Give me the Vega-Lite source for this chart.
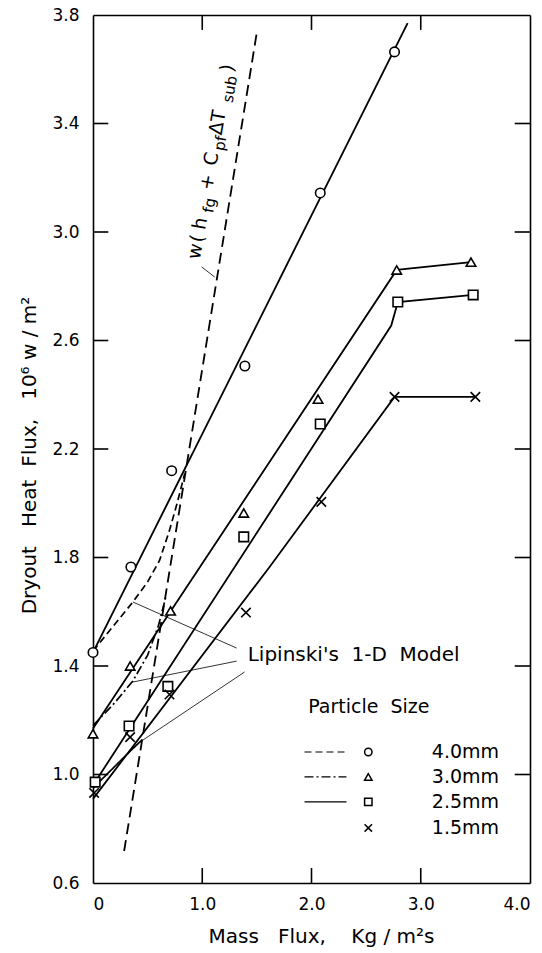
{
  "$schema": "https://vega.github.io/schema/vega-lite/v6.json",
  "width": 437,
  "height": 868,
  "autosize": {"type": "none"},
  "padding": {"left": 93, "top": 15, "right": 12, "bottom": 70},
  "background": "white",
  "config": {
    "view": {"stroke": null},
    "font": "DejaVu Sans",
    "text": {"font": "DejaVu Sans", "color": "black"},
    "axis": {
      "grid": false,
      "domainColor": "black",
      "domainWidth": 1.6,
      "tickColor": "black",
      "tickWidth": 1.5,
      "labelColor": "black",
      "labelFont": "DejaVu Sans",
      "labelFontSize": 17,
      "titleFont": "DejaVu Sans",
      "titleFontSize": 19,
      "titleFontWeight": "normal",
      "titleColor": "black"
    }
  },
  "datasets": {
    "points": [
      {"size": "4.0mm", "x": 0.0, "y": 1.45},
      {"size": "4.0mm", "x": 0.347, "y": 1.765},
      {"size": "4.0mm", "x": 0.72, "y": 2.12},
      {"size": "4.0mm", "x": 1.39, "y": 2.506},
      {"size": "4.0mm", "x": 2.08, "y": 3.144},
      {"size": "4.0mm", "x": 2.76, "y": 3.664},
      {"size": "3.0mm", "x": 0.0, "y": 1.15},
      {"size": "3.0mm", "x": 0.34, "y": 1.40},
      {"size": "3.0mm", "x": 0.71, "y": 1.603},
      {"size": "3.0mm", "x": 1.38, "y": 1.964},
      {"size": "3.0mm", "x": 2.06, "y": 2.384},
      {"size": "3.0mm", "x": 2.78, "y": 2.86},
      {"size": "3.0mm", "x": 3.46, "y": 2.889},
      {"size": "2.5mm", "x": 0.02, "y": 0.972},
      {"size": "2.5mm", "x": 0.33, "y": 1.179},
      {"size": "2.5mm", "x": 0.685, "y": 1.325},
      {"size": "2.5mm", "x": 1.38, "y": 1.876},
      {"size": "2.5mm", "x": 2.08, "y": 2.292},
      {"size": "2.5mm", "x": 2.79, "y": 2.742},
      {"size": "2.5mm", "x": 3.48, "y": 2.768},
      {"size": "1.5mm", "x": 0.01, "y": 0.932},
      {"size": "1.5mm", "x": 0.34, "y": 1.138},
      {"size": "1.5mm", "x": 0.70, "y": 1.295},
      {"size": "1.5mm", "x": 1.40, "y": 1.597},
      {"size": "1.5mm", "x": 2.09, "y": 2.005},
      {"size": "1.5mm", "x": 2.76, "y": 2.392},
      {"size": "1.5mm", "x": 3.50, "y": 2.392}
    ],
    "fits": [
      {"series": "4.0mm", "x": 0.0, "y": 1.45},
      {"series": "4.0mm", "x": 2.88, "y": 3.77},
      {"series": "3.0mm", "x": 0.0, "y": 1.17},
      {"series": "3.0mm", "x": 2.78, "y": 2.86},
      {"series": "3.0mm", "x": 3.46, "y": 2.889},
      {"series": "2.5mm", "x": 0.0, "y": 0.96},
      {"series": "2.5mm", "x": 2.73, "y": 2.655},
      {"series": "2.5mm", "x": 2.79, "y": 2.742},
      {"series": "2.5mm", "x": 3.48, "y": 2.768},
      {"series": "1.5mm", "x": 0.0, "y": 0.91},
      {"series": "1.5mm", "x": 1.616, "y": 1.765},
      {"series": "1.5mm", "x": 2.76, "y": 2.392},
      {"series": "1.5mm", "x": 3.50, "y": 2.392}
    ],
    "lipinski": [
      {"model": "4.0mm", "x": 0.0, "y": 1.455},
      {"model": "4.0mm", "x": 0.365, "y": 1.636},
      {"model": "4.0mm", "x": 0.5, "y": 1.71},
      {"model": "4.0mm", "x": 0.61, "y": 1.79},
      {"model": "4.0mm", "x": 0.70, "y": 1.90},
      {"model": "4.0mm", "x": 0.77, "y": 2.0},
      {"model": "4.0mm", "x": 0.84, "y": 2.11},
      {"model": "3.0mm", "x": 0.0, "y": 1.18},
      {"model": "3.0mm", "x": 0.2, "y": 1.265},
      {"model": "3.0mm", "x": 0.365, "y": 1.345},
      {"model": "3.0mm", "x": 0.5, "y": 1.44},
      {"model": "3.0mm", "x": 0.6, "y": 1.55},
      {"model": "3.0mm", "x": 0.67, "y": 1.66},
      {"model": "2.5mm", "x": 0.0, "y": 0.95},
      {"model": "2.5mm", "x": 0.2, "y": 1.03},
      {"model": "2.5mm", "x": 0.35, "y": 1.09},
      {"model": "2.5mm", "x": 0.45, "y": 1.128}
    ],
    "wline": [
      {"x": 0.285, "y": 0.718},
      {"x": 1.50, "y": 3.737}
    ],
    "leaders": [
      {"x": 1.315, "y": 1.466, "x2": 0.365, "y2": 1.636},
      {"x": 1.315, "y": 1.418, "x2": 0.365, "y2": 1.341},
      {"x": 1.388, "y": 1.378, "x2": 0.457, "y2": 1.127},
      {"x": 0.995, "y": 2.871, "x2": 1.114, "y2": 2.834}
    ],
    "ticklines": [
      {"id": "b1", "x": 1, "y": 0.6}, {"id": "b1", "x": 1, "y": 0.655},
      {"id": "b2", "x": 2, "y": 0.6}, {"id": "b2", "x": 2, "y": 0.655},
      {"id": "b3", "x": 3, "y": 0.6}, {"id": "b3", "x": 3, "y": 0.655},
      {"id": "t1", "x": 1, "y": 3.8}, {"id": "t1", "x": 1, "y": 3.745},
      {"id": "t2", "x": 2, "y": 3.8}, {"id": "t2", "x": 2, "y": 3.745},
      {"id": "t3", "x": 3, "y": 3.8}, {"id": "t3", "x": 3, "y": 3.745},
      {"id": "l10", "x": 0, "y": 1.0}, {"id": "l10", "x": 0.14, "y": 1.0},
      {"id": "l14", "x": 0, "y": 1.4}, {"id": "l14", "x": 0.14, "y": 1.4},
      {"id": "l18", "x": 0, "y": 1.8}, {"id": "l18", "x": 0.14, "y": 1.8},
      {"id": "l22", "x": 0, "y": 2.2}, {"id": "l22", "x": 0.14, "y": 2.2},
      {"id": "l26", "x": 0, "y": 2.6}, {"id": "l26", "x": 0.14, "y": 2.6},
      {"id": "l30", "x": 0, "y": 3.0}, {"id": "l30", "x": 0.14, "y": 3.0},
      {"id": "l34", "x": 0, "y": 3.4}, {"id": "l34", "x": 0.14, "y": 3.4},
      {"id": "r10", "x": 3.86, "y": 1.0}, {"id": "r10", "x": 4, "y": 1.0},
      {"id": "r14", "x": 3.86, "y": 1.4}, {"id": "r14", "x": 4, "y": 1.4},
      {"id": "r18", "x": 3.86, "y": 1.8}, {"id": "r18", "x": 4, "y": 1.8},
      {"id": "r22", "x": 3.86, "y": 2.2}, {"id": "r22", "x": 4, "y": 2.2},
      {"id": "r26", "x": 3.86, "y": 2.6}, {"id": "r26", "x": 4, "y": 2.6},
      {"id": "r30", "x": 3.86, "y": 3.0}, {"id": "r30", "x": 4, "y": 3.0},
      {"id": "r34", "x": 3.86, "y": 3.4}, {"id": "r34", "x": 4, "y": 3.4}
    ],
    "legend": [
      {"size": "4.0mm", "label": "4.0mm", "y": 1.083, "x1": 1.936, "x2": 2.32, "xs": 2.52, "xt": 3.717},
      {"size": "3.0mm", "label": "3.0mm", "y": 0.991, "x1": 1.936, "x2": 2.32, "xs": 2.52, "xt": 3.717},
      {"size": "2.5mm", "label": "2.5mm", "y": 0.899, "x1": 1.936, "x2": 2.32, "xs": 2.52, "xt": 3.717},
      {"size": "1.5mm", "label": "1.5mm", "y": 0.803, "xs": 2.52, "xt": 3.717}
    ],
    "notes": [
      {"text": "Lipinski's\u00a0\u00a01-D\u00a0\u00a0Model", "x": 1.416, "y": 1.44, "kind": "left"},
      {"text": "Particle\u00a0\u00a0Size", "x": 2.525, "y": 1.249, "kind": "center"}
    ],
    "formula": [
      {"x": 0.977, "y": 2.897}
    ],
    "frame": [
      {"x": 0, "y": 0.6},
      {"x": 4, "y": 3.8}
    ]
  },
  "resolve": {"axis": {"x": "independent", "y": "independent"}},
  "layer": [
    {
      "data": {"name": "frame"},
      "mark": {"type": "point", "opacity": 0},
      "encoding": {
        "x": {
          "field": "x", "type": "quantitative",
          "scale": {"domain": [0, 4], "nice": false, "zero": false},
          "axis": {
            "orient": "bottom",
            "values": [0, 1, 2, 3, 4],
            "labelExpr": "datum.value == 0 ? '0' : format(datum.value, '.1f')",
            "ticks": false,
            "tickSize": 0,
            "labelPadding": 13,
            "title": "Mass\u00a0\u00a0\u00a0Flux,\u00a0\u00a0\u00a0\u00a0Kg\u00a0/\u00a0m²s",
            "titleFontSize": 20,
            "titleX": 228,
            "titlePadding": 14
          }
        },
        "y": {
          "field": "y", "type": "quantitative",
          "scale": {"domain": [0.6, 3.8], "nice": false, "zero": false},
          "axis": {
            "orient": "left",
            "values": [0.6, 1.0, 1.4, 1.8, 2.2, 2.6, 3.0, 3.4, 3.8],
            "format": ".1f",
            "ticks": false,
            "tickSize": 0,
            "labelPadding": 14,
            "title": "Dryout\u00a0\u00a0\u00a0Heat\u00a0\u00a0Flux,\u00a0\u00a0\u00a010⁶\u00a0w\u00a0/\u00a0m²",
            "titleFontSize": 20,
            "titleY": 440,
            "titlePadding": 12
          }
        }
      }
    },
    {
      "data": {"name": "frame"},
      "mark": {"type": "point", "opacity": 0},
      "encoding": {
        "x": {"field": "x", "type": "quantitative",
          "axis": {"orient": "top", "values": [1, 2, 3], "labels": false, "ticks": false, "title": null, "domain": true}},
        "y": {"field": "y", "type": "quantitative",
          "axis": {"orient": "right", "values": [1.0, 1.4], "labels": false, "ticks": false, "title": null, "domain": true}}
      }
    },
    {
      "data": {"name": "ticklines"},
      "mark": {"type": "line", "color": "black", "strokeWidth": 1.6},
      "encoding": {
        "x": {"field": "x", "type": "quantitative", "axis": null},
        "y": {"field": "y", "type": "quantitative", "axis": null},
        "detail": {"field": "id"}
      }
    },
    {
      "data": {"name": "fits"},
      "mark": {"type": "line", "color": "black", "strokeWidth": 1.8},
      "encoding": {
        "x": {"field": "x", "type": "quantitative", "axis": null},
        "y": {"field": "y", "type": "quantitative", "axis": null},
        "detail": {"field": "series"}
      }
    },
    {
      "data": {"name": "lipinski"},
      "mark": {"type": "line", "color": "black", "strokeWidth": 1.7},
      "encoding": {
        "x": {"field": "x", "type": "quantitative", "axis": null},
        "y": {"field": "y", "type": "quantitative", "axis": null},
        "strokeDash": {
          "field": "model", "type": "nominal",
          "scale": {"domain": ["4.0mm", "3.0mm", "2.5mm"], "range": [[7, 4], [9, 3, 2, 3], [1, 0]]},
          "legend": null
        }
      }
    },
    {
      "data": {"name": "wline"},
      "mark": {"type": "line", "color": "black", "strokeWidth": 1.8, "strokeDash": [11, 6]},
      "encoding": {
        "x": {"field": "x", "type": "quantitative", "axis": null},
        "y": {"field": "y", "type": "quantitative", "axis": null}
      }
    },
    {
      "data": {"name": "leaders"},
      "mark": {"type": "rule", "color": "black", "strokeWidth": 0.8},
      "encoding": {
        "x": {"field": "x", "type": "quantitative", "axis": null},
        "y": {"field": "y", "type": "quantitative", "axis": null},
        "x2": {"field": "x2"},
        "y2": {"field": "y2"}
      }
    },
    {
      "data": {"name": "points"},
      "mark": {"type": "point", "filled": true, "fill": "white", "stroke": "black", "strokeWidth": 1.6, "opacity": 1},
      "encoding": {
        "x": {"field": "x", "type": "quantitative", "axis": null},
        "y": {"field": "y", "type": "quantitative", "axis": null},
        "shape": {
          "field": "size", "type": "nominal",
          "scale": {"domain": ["4.0mm", "3.0mm", "2.5mm", "1.5mm"], "range": ["circle", "triangle-up", "square", "M-1,-1L1,1M-1,1L1,-1"]},
          "legend": null
        },
        "size": {"value": 90}
      }
    },
    {
      "data": {"name": "legend"},
      "transform": [{"filter": "datum.x1 != null"}],
      "mark": {"type": "rule", "color": "black", "strokeWidth": 1.2},
      "encoding": {
        "x": {"field": "x1", "type": "quantitative", "axis": null},
        "x2": {"field": "x2"},
        "y": {"field": "y", "type": "quantitative", "axis": null},
        "strokeDash": {
          "field": "size", "type": "nominal",
          "scale": {"domain": ["4.0mm", "3.0mm", "2.5mm"], "range": [[8, 5], [8, 3, 2, 3], [1, 0]]},
          "legend": null
        }
      }
    },
    {
      "data": {"name": "legend"},
      "mark": {"type": "point", "filled": true, "fill": "white", "stroke": "black", "strokeWidth": 1.5, "opacity": 1},
      "encoding": {
        "x": {"field": "xs", "type": "quantitative", "axis": null},
        "y": {"field": "y", "type": "quantitative", "axis": null},
        "shape": {
          "field": "size", "type": "nominal",
          "scale": {"domain": ["4.0mm", "3.0mm", "2.5mm", "1.5mm"], "range": ["circle", "triangle-up", "square", "M-1,-1L1,1M-1,1L1,-1"]},
          "legend": null
        },
        "size": {"value": 55}
      }
    },
    {
      "data": {"name": "legend"},
      "mark": {"type": "text", "align": "right", "baseline": "middle", "fontSize": 19},
      "encoding": {
        "x": {"field": "xt", "type": "quantitative", "axis": null},
        "y": {"field": "y", "type": "quantitative", "axis": null},
        "text": {"field": "label"}
      }
    },
    {
      "data": {"name": "notes"},
      "transform": [{"filter": "datum.kind == 'left'"}],
      "mark": {"type": "text", "align": "left", "baseline": "middle", "fontSize": 20},
      "encoding": {
        "x": {"field": "x", "type": "quantitative", "axis": null},
        "y": {"field": "y", "type": "quantitative", "axis": null},
        "text": {"field": "text"}
      }
    },
    {
      "data": {"name": "notes"},
      "transform": [{"filter": "datum.kind == 'center'"}],
      "mark": {"type": "text", "align": "center", "baseline": "middle", "fontSize": 19},
      "encoding": {
        "x": {"field": "x", "type": "quantitative", "axis": null},
        "y": {"field": "y", "type": "quantitative", "axis": null},
        "text": {"field": "text"}
      }
    },
    {
      "data": {"name": "formula"},
      "mark": {"type": "text", "text": "w", "angle": 280, "align": "left", "baseline": "alphabetic", "fontSize": 19, "dx": 0},
      "encoding": {"x": {"field": "x", "type": "quantitative", "axis": null}, "y": {"field": "y", "type": "quantitative", "axis": null}}
    },
    {
      "data": {"name": "formula"},
      "mark": {"type": "text", "text": "(", "angle": 280, "align": "left", "baseline": "alphabetic", "fontSize": 19, "dx": 17},
      "encoding": {"x": {"field": "x", "type": "quantitative", "axis": null}, "y": {"field": "y", "type": "quantitative", "axis": null}}
    },
    {
      "data": {"name": "formula"},
      "mark": {"type": "text", "text": "h", "angle": 280, "align": "left", "baseline": "alphabetic", "fontSize": 19, "dx": 30},
      "encoding": {"x": {"field": "x", "type": "quantitative", "axis": null}, "y": {"field": "y", "type": "quantitative", "axis": null}}
    },
    {
      "data": {"name": "formula"},
      "mark": {"type": "text", "text": "fg", "angle": 280, "align": "left", "baseline": "alphabetic", "fontSize": 15, "dx": 48, "dy": 5},
      "encoding": {"x": {"field": "x", "type": "quantitative", "axis": null}, "y": {"field": "y", "type": "quantitative", "axis": null}}
    },
    {
      "data": {"name": "formula"},
      "mark": {"type": "text", "text": "+", "angle": 280, "align": "left", "baseline": "alphabetic", "fontSize": 19, "dx": 70},
      "encoding": {"x": {"field": "x", "type": "quantitative", "axis": null}, "y": {"field": "y", "type": "quantitative", "axis": null}}
    },
    {
      "data": {"name": "formula"},
      "mark": {"type": "text", "text": "C", "angle": 280, "align": "left", "baseline": "alphabetic", "fontSize": 19, "dx": 95},
      "encoding": {"x": {"field": "x", "type": "quantitative", "axis": null}, "y": {"field": "y", "type": "quantitative", "axis": null}}
    },
    {
      "data": {"name": "formula"},
      "mark": {"type": "text", "text": "pf", "angle": 280, "align": "left", "baseline": "alphabetic", "fontSize": 15, "dx": 111, "dy": 5},
      "encoding": {"x": {"field": "x", "type": "quantitative", "axis": null}, "y": {"field": "y", "type": "quantitative", "axis": null}}
    },
    {
      "data": {"name": "formula"},
      "mark": {"type": "text", "text": "ΔT", "angle": 280, "align": "left", "baseline": "alphabetic", "fontSize": 19, "dx": 126},
      "encoding": {"x": {"field": "x", "type": "quantitative", "axis": null}, "y": {"field": "y", "type": "quantitative", "axis": null}}
    },
    {
      "data": {"name": "formula"},
      "mark": {"type": "text", "text": "sub", "angle": 280, "align": "left", "baseline": "alphabetic", "fontSize": 15, "dx": 160, "dy": 5},
      "encoding": {"x": {"field": "x", "type": "quantitative", "axis": null}, "y": {"field": "y", "type": "quantitative", "axis": null}}
    },
    {
      "data": {"name": "formula"},
      "mark": {"type": "text", "text": ")", "angle": 280, "align": "left", "baseline": "alphabetic", "fontSize": 19, "dx": 190},
      "encoding": {"x": {"field": "x", "type": "quantitative", "axis": null}, "y": {"field": "y", "type": "quantitative", "axis": null}}
    }
  ]
}
